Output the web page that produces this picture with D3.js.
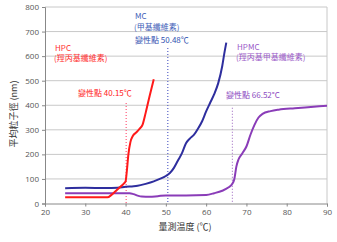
<!DOCTYPE html>
<html lang="zh-Hant">
<head>
<meta charset="UTF-8">
<title>Particle size vs temperature</title>
<script src="https://d3js.org/d3.v7.min.js"></script>
<style>
  body { margin: 0; background: #fff; }
  svg text { font-family: "Noto Sans CJK TC", "Noto Sans", sans-serif; }
</style>
</head>
<body>
<svg id="chart" width="337" height="242"></svg>
<script>
// data
var xTicks = [20, 30, 40, 50, 60, 70, 80, 90];
var yTicks = [0, 100, 200, 300, 400, 500, 600, 700, 800];

var hpcTemp = [25, 30, 35.5, 36.5, 37.5, 38.5, 39.5, 40, 40.3, 40.7, 41.2, 41.8, 42.7, 43.5, 44.2, 45, 46, 47];
var hpcSize = [25, 25, 25, 35, 50, 65, 80, 90, 130, 200, 250, 275, 290, 305, 320, 370, 440, 506];

var mcTemp = [25, 30, 35, 38, 40, 42, 43, 45, 47, 48.5, 50, 51, 52, 53, 54, 55, 56, 57, 58, 59, 60, 61, 62, 63, 64, 64.5, 65];
var mcSize = [62, 64, 63, 64, 68, 70, 72, 80, 90, 100, 112, 124, 145, 175, 205, 245, 265, 280, 305, 335, 375, 410, 445, 490, 560, 610, 655];

var hpmcTemp = [25, 38, 41, 42, 43, 44, 46, 48, 50, 55, 60, 62, 64, 65.5, 66.5, 67, 67.5, 68, 69, 70, 71, 72, 73, 74, 76, 78, 82, 86, 90];
var hpmcSize = [42, 42, 42, 38, 32, 28, 27, 30, 33, 33, 35, 42, 52, 65, 80, 100, 150, 178, 205, 232, 280, 320, 350, 365, 376, 382, 388, 393, 398];

// transition points: temp and top of the dotted line
var markTemp = [40.15, 50.48, 66.52];
var markTop = [409, 633, 390];

var svg = d3.select("#chart");
var x = d3.scaleLinear().domain([20, 90]).range([45, 327]);
var y = d3.scaleLinear().domain([0, 800]).range([203.5, 7]);

// grid
svg.append("g")
  .selectAll("line")
  .data(yTicks.slice(1))
  .enter().append("line")
    .attr("x1", x(20)).attr("x2", x(90))
    .attr("y1", d => y(d)).attr("y2", d => y(d))
    .attr("stroke", "#c8c8c8").attr("stroke-width", 1);

svg.append("line")
  .attr("x1", x(90)).attr("x2", x(90))
  .attr("y1", y(0)).attr("y2", y(800))
  .attr("stroke", "#c8c8c8");

// axes
var xAxis = svg.append("g")
  .attr("transform", "translate(0," + y(0) + ")")
  .call(d3.axisBottom(x).tickValues(xTicks).tickSize(3).tickPadding(3));
var yAxis = svg.append("g")
  .attr("transform", "translate(" + x(20) + ",0)")
  .call(d3.axisLeft(y).tickValues(yTicks).tickSize(3).tickPadding(3));

[xAxis, yAxis].forEach(function(g) {
  g.select(".domain").attr("stroke", "#888");
  g.selectAll(".tick line").attr("stroke", "#888");
  g.selectAll(".tick text")
    .attr("fill", "#555")
    .style("font-size", "8px")
    .style("font-family", "'Open Sans', sans-serif");
});

// dotted transition lines
var markColor = ["#ff5a7a", "#5a64c8", "#a878c8"];
svg.append("g")
  .selectAll("line")
  .data(markTemp)
  .enter().append("line")
    .attr("x1", d => x(d)).attr("x2", d => x(d))
    .attr("y1", (d, i) => y(markTop[i])).attr("y2", y(0))
    .attr("stroke", (d, i) => markColor[i])
    .attr("stroke-width", 1.2)
    .attr("stroke-dasharray", "1,2");

// curves
var line = d3.line()
  .x(d => x(d[0]))
  .y(d => y(d[1]))
  .curve(d3.curveMonotoneX);

function draw(temp, size, color) {
  svg.append("path")
    .datum(d3.zip(temp, size))
    .attr("fill", "none")
    .attr("stroke", color)
    .attr("stroke-width", 2)
    .attr("d", line);
}
draw(hpmcTemp, hpmcSize, "#8a3cb8");
draw(mcTemp, mcSize, "#2e2e9e");
draw(hpcTemp, hpcSize, "#ff1a1a");

// annotations
function label(px, py, txt, color) {
  svg.append("text")
    .attr("x", px).attr("y", py)
    .attr("fill", color)
    .style("font-size", "8px")
    .text(txt);
}
label(55, 51, "HPC", "#ff3030");
label(54, 61, "(羥丙基纖維素)", "#ff3030");
label(78, 96, "變性點 40.15℃", "#ff2020");

label(135, 19, "MC", "#4060b8");
label(134, 30, "(甲基纖維素)", "#4060b8");
label(135, 43, "變性點 50.48℃", "#3050b0");

label(237, 50, "HPMC", "#9a5ac8");
label(236, 60, "(羥丙基甲基纖維素)", "#9a5ac8");
label(226, 98, "變性點 66.52°C", "#8a48c0");

// axis titles
svg.append("text")
  .attr("x", 185).attr("y", 230)
  .attr("text-anchor", "middle")
  .attr("fill", "#333")
  .style("font-size", "9px")
  .text("量測温度 (℃)");

svg.append("text")
  .attr("transform", "translate(17,114) rotate(-90)")
  .attr("text-anchor", "middle")
  .attr("fill", "#333")
  .style("font-size", "9px")
  .text("平均粒子徑 (nm)");
</script>
</body>
</html>
